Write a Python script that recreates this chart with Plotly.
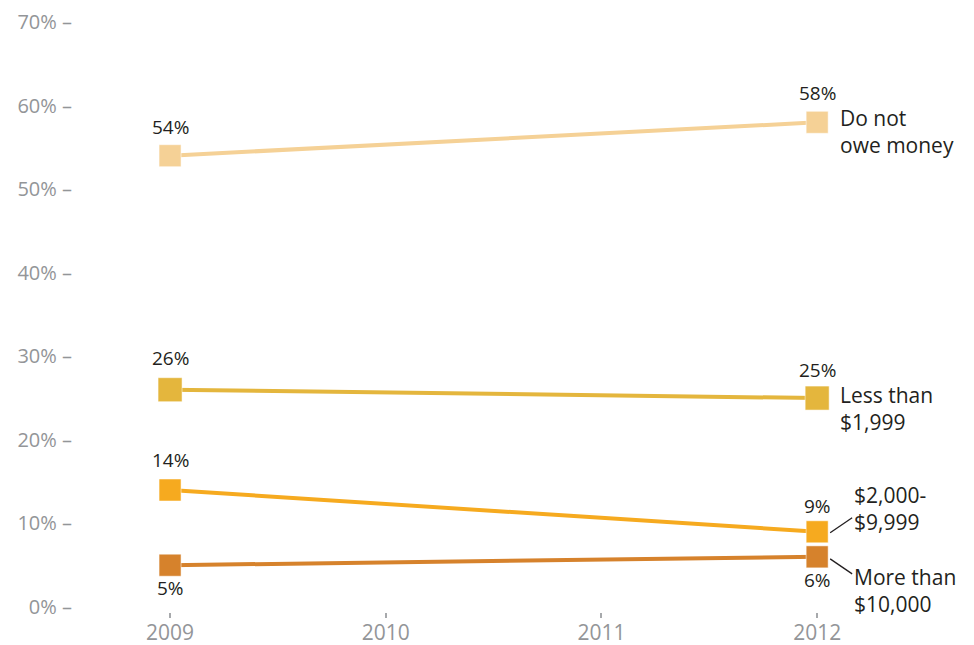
import plotly.graph_objects as go

years = [2009, 2012]
series_names = ["Do not<br>owe money", "Less than<br>$1,999", "$2,000-<br>$9,999", "More than<br>$10,000"]
do_not_owe = [54, 58]
less_1999 = [26, 25]
mid_2000_9999 = [14, 9]
more_10000 = [5, 6]
colors = ["#F5D196", "#E4B63D", "#F6AA1F", "#D6822C"]
marker_sizes = [22, 24, 22, 22]
value_label_shift = [[29, 29], [32, 28], [30, 26], [-23, -23]]
name_offsets = [(21, -9), (21, -10), (35, 23), (35, -34)]
y_ticks = [0, 10, 20, 30, 40, 50, 60, 70]
x_ticks = [2009, 2010, 2011, 2012]

all_values = [do_not_owe, less_1999, mid_2000_9999, more_10000]

FONT = "Open Sans"
fig = go.Figure()
annotations = []
for name, vals, col, ms, shifts, off in zip(series_names, all_values, colors, marker_sizes, value_label_shift, name_offsets):
    fig.add_trace(go.Scatter(
        x=years, y=vals, mode="lines+markers",
        line=dict(color=col, width=4),
        marker=dict(symbol="square", size=ms, color=col, line=dict(color="rgba(255,255,255,0.5)", width=1)),
        showlegend=False, hoverinfo="skip"))
    for xv, yv, s in zip(years, vals, shifts):
        annotations.append(dict(x=xv, y=yv, text=f"{yv}%", showarrow=False, yshift=s,
                                font=dict(size=19, color="#231F20", family=FONT)))
    annotations.append(dict(x=years[-1], y=vals[-1], text=name, showarrow=False,
                            xanchor="left", align="left", xshift=off[0], yshift=off[1],
                            font=dict(size=21, color="#231F20", family=FONT)))

shapes = [
    dict(type="line", xref="x", yref="y", xsizemode="pixel", ysizemode="pixel",
         xanchor=years[-1], yanchor=mid_2000_9999[-1], x0=13, y0=-1, x1=35, y1=14,
         line=dict(color="#231F20", width=1.3)),
    dict(type="line", xref="x", yref="y", xsizemode="pixel", ysizemode="pixel",
         xanchor=years[-1], yanchor=more_10000[-1], x0=13, y0=-2, x1=35, y1=-17,
         line=dict(color="#231F20", width=1.3)),
]

fig.update_layout(
    width=974, height=645,
    margin=dict(l=65, r=57, t=14, b=41, autoexpand=False),
    plot_bgcolor="white", paper_bgcolor="white",
    annotations=annotations, shapes=shapes,
    xaxis=dict(range=[2008.55, 2012.5], tickvals=x_ticks, ticktext=[str(v) for v in x_ticks],
               anchor="free", position=0, automargin=False,
               showgrid=False, zeroline=False, showline=False,
               ticks="outside", ticklen=5, tickwidth=2, tickcolor="#A7A9AC",
               ticklabelstandoff=-3,
               tickfont=dict(size=21, color="#939598", family=FONT)),
    yaxis=dict(range=[0, 70], domain=[5 / 590, 1], tickvals=y_ticks, ticktext=[f"{v}% –" for v in y_ticks],
               automargin=False,
               showgrid=False, zeroline=False, showline=False, ticks="",
               tickfont=dict(size=20, color="#939598", family=FONT)),
)

fig.write_html("out.html")
